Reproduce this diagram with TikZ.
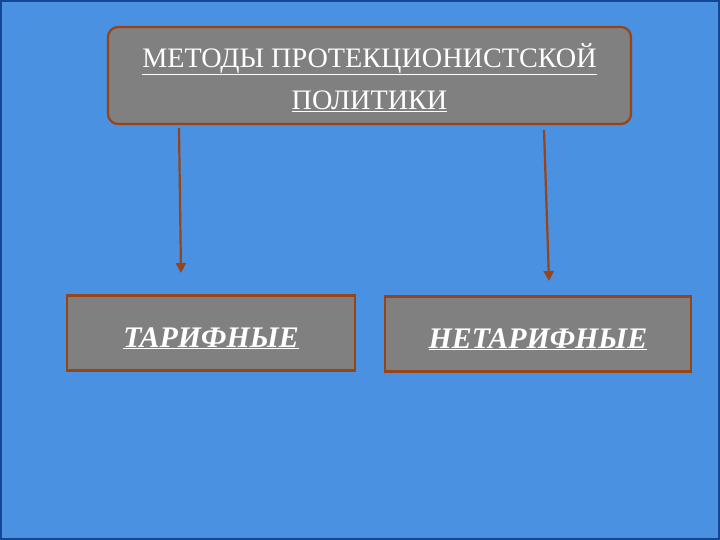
\documentclass[tikz,border=0pt]{standalone}
\usepackage{fontspec}
\setmainfont{Liberation Serif}
\usepackage{tikz}
\usetikzlibrary{arrows.meta,positioning}

\definecolor{slideblue}{RGB}{74,145,226}
\definecolor{edgeblue}{RGB}{20,70,150}
\definecolor{boxgray}{RGB}{128,128,128}
\definecolor{rust}{RGB}{150,68,24}

\begin{document}
\begin{tikzpicture}[x=1bp,y=-1bp]
  \tikzstyle{topbox}=[draw=rust,line width=2.2bp,fill=boxgray,rounded corners=10bp,
    minimum width=523bp,minimum height=97bp,inner sep=0pt,text=white,align=center,
    text height=75bp,text depth=6bp,font=\fontsize{28.3}{43}\selectfont]
  \tikzstyle{kindbox}=[draw=rust,line width=2.2bp,fill=boxgray,minimum height=75bp,
    inner sep=0pt,text=white,text height=34bp,text depth=6bp,
    font=\fontsize{30}{34}\selectfont\bfseries\itshape]
  \tikzstyle{arr}=[draw=rust,line width=2.2bp,-{Triangle[length=10bp,width=10bp]}]

  \fill[slideblue] (0,0) rectangle (720,540);
  \draw[edgeblue,line width=2bp] (1,1) rectangle (719,539);

  \node[topbox] (title) at (369.5,75.5)
    {\underline{МЕТОДЫ ПРОТЕКЦИОНИСТСКОЙ}\\\underline{ПОЛИТИКИ}};

  \node[kindbox,minimum width=288bp] (tariff) at (211,333) {\underline{ТАРИФНЫЕ}};
  \node[kindbox,minimum width=306bp] (nontariff) at (538,334) {\underline{НЕТАРИФНЫЕ}};

  \coordinate (ls) at (179,128);
  \coordinate (le) at (181,273);
  \coordinate (rs) at (544,130);
  \coordinate (re) at (549,281);

  \draw[arr] (ls) -- (le);
  \draw[arr] (rs) -- (re);
\end{tikzpicture}
\end{document}
